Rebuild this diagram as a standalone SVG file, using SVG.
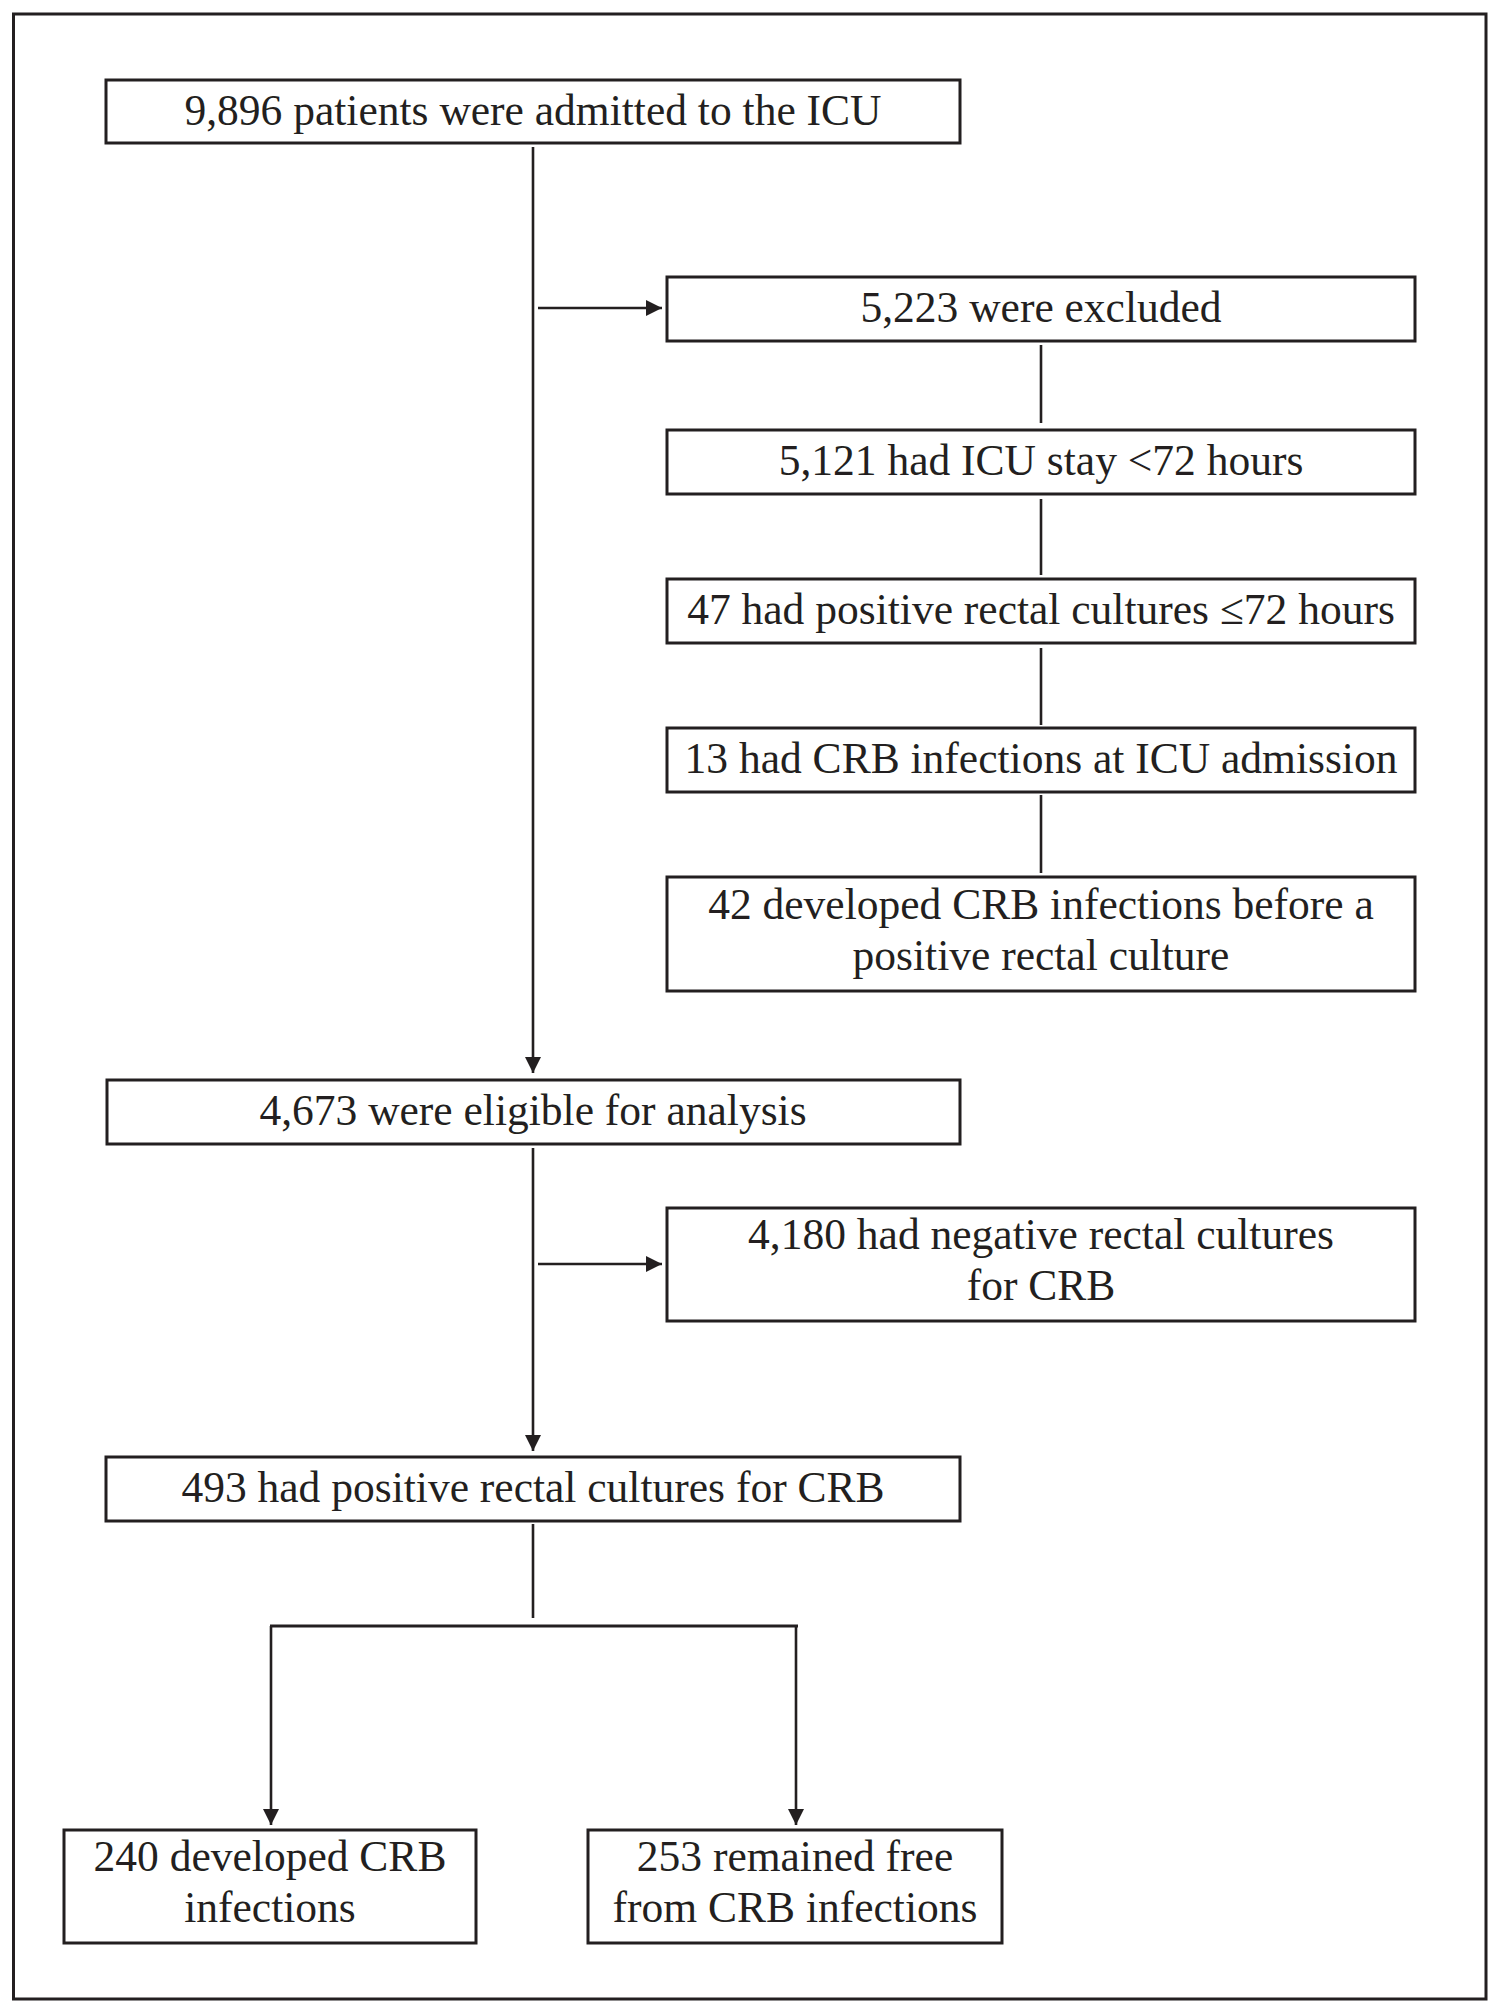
<svg xmlns="http://www.w3.org/2000/svg" width="1500" height="2013" viewBox="0 0 1500 2013">
<defs>
<style>
.box{fill:#fff;stroke:#231f20;stroke-width:3}
.ln{fill:none;stroke:#231f20;stroke-width:2.6}
.t{font-family:"Liberation Serif","Times New Roman",serif;font-size:43.5px;fill:#231f20;text-anchor:middle}
</style>
<marker id="ah" markerUnits="userSpaceOnUse" markerWidth="16" markerHeight="16" refX="16" refY="8" orient="auto">
<path d="M0,0 L16,8 L0,16 Z" fill="#231f20"/>
</marker>
</defs>
<rect width="1500" height="2013" fill="#fff"/>
<rect x="13.5" y="14" width="1472.5" height="1985" fill="none" stroke="#231f20" stroke-width="3"/>
<g id="connectors">
<path class="ln" d="M533,147 V1073" marker-end="url(#ah)"/>
<path class="ln" d="M538,308 H662" marker-end="url(#ah)"/>
<path class="ln" d="M1041,345 V423"/>
<path class="ln" d="M1041,499 V575"/>
<path class="ln" d="M1041,648 V725"/>
<path class="ln" d="M1041,795 V873"/>
<path class="ln" d="M533,1148 V1451" marker-end="url(#ah)"/>
<path class="ln" d="M538,1264 H662" marker-end="url(#ah)"/>
<path class="ln" d="M533,1524 V1618"/>
<path class="ln" d="M270,1626 H798" style="stroke-width:3"/>
<path class="ln" d="M271,1626 V1825" marker-end="url(#ah)"/>
<path class="ln" d="M796,1626 V1825" marker-end="url(#ah)"/>
</g>
<g id="n1"><rect class="box" x="106" y="80" width="854" height="63"/><text class="t" x="533" y="125">9,896 patients were admitted to the ICU</text></g>
<g id="n2"><rect class="box" x="667" y="277" width="748" height="64"/><text class="t" x="1041" y="322">5,223 were excluded</text></g>
<g id="n3"><rect class="box" x="667" y="430" width="748" height="64"/><text class="t" x="1041" y="475">5,121 had ICU stay &lt;72 hours</text></g>
<g id="n4"><rect class="box" x="667" y="579" width="748" height="64"/><text class="t" x="1041" y="624">47 had positive rectal cultures ≤72 hours</text></g>
<g id="n5"><rect class="box" x="667" y="728" width="748" height="64"/><text class="t" x="1041" y="773">13 had CRB infections at ICU admission</text></g>
<g id="n6"><rect class="box" x="667" y="877" width="748" height="114"/><text class="t" x="1041" y="919">42 developed CRB infections before a</text><text class="t" x="1041" y="970">positive rectal culture</text></g>
<g id="n7"><rect class="box" x="107" y="1080" width="853" height="64"/><text class="t" x="533" y="1125">4,673 were eligible for analysis</text></g>
<g id="n8"><rect class="box" x="667" y="1208" width="748" height="113"/><text class="t" x="1041" y="1249">4,180 had negative rectal cultures</text><text class="t" x="1041" y="1300">for CRB</text></g>
<g id="n9"><rect class="box" x="106" y="1457" width="854" height="64"/><text class="t" x="533" y="1502">493 had positive rectal cultures for CRB</text></g>
<g id="n10"><rect class="box" x="64" y="1830" width="412" height="113"/><text class="t" x="270" y="1871">240 developed CRB</text><text class="t" x="270" y="1922">infections</text></g>
<g id="n11"><rect class="box" x="588" y="1830" width="414" height="113"/><text class="t" x="795" y="1871">253 remained free</text><text class="t" x="795" y="1922">from CRB infections</text></g>
</svg>
